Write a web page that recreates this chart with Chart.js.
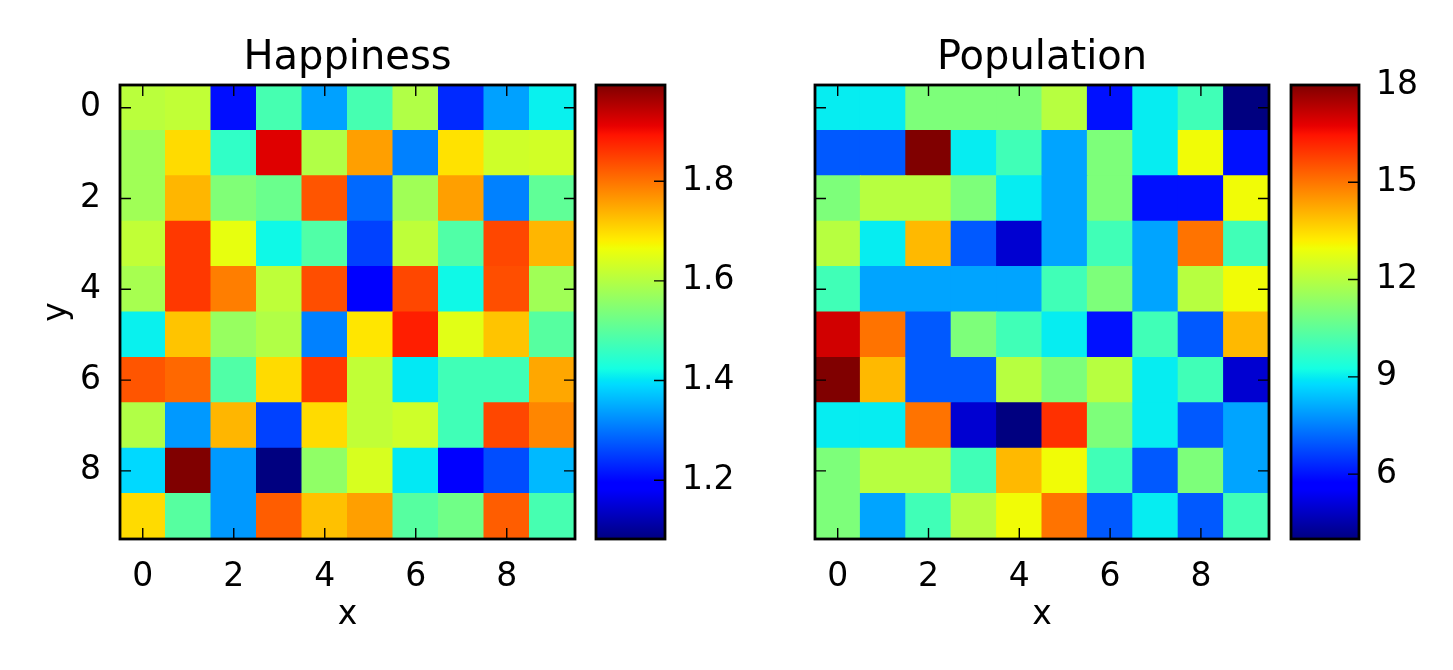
<!DOCTYPE html>
<html><head><meta charset="utf-8">
<script src="https://cdn.jsdelivr.net/npm/chart.js@4.4.1/dist/chart.umd.min.js"></script>
<style>
html,body{margin:0;padding:0;background:#fff;width:1453px;height:670px;overflow:hidden;position:relative;}
canvas{position:absolute;top:0;}
</style></head><body>
<canvas id="c1" width="590" height="670" style="left:0px"></canvas>
<canvas id="c2" width="170" height="670" style="left:590px"></canvas>
<canvas id="c3" width="520" height="670" style="left:760px"></canvas>
<canvas id="c4" width="173" height="670" style="left:1280px"></canvas>
<script>
// ---------- data ----------
const xCategories = [0, 1, 2, 3, 4, 5, 6, 7, 8, 9];
const yCategories = [0, 1, 2, 3, 4, 5, 6, 7, 8, 9];
const axisTickValues = [0, 2, 4, 6, 8];
const titleLeft = 'Happiness';
const titleRight = 'Population';
const xLabel = 'x';
const yLabel = 'y';

const happiness = [
  [1.606, 1.615, 1.210, 1.480, 1.339, 1.480, 1.596, 1.232, 1.339, 1.410],
  [1.579, 1.701, 1.455, 1.916, 1.596, 1.756, 1.310, 1.692, 1.629, 1.633],
  [1.579, 1.734, 1.542, 1.517, 1.826, 1.289, 1.579, 1.756, 1.310, 1.507],
  [1.615, 1.856, 1.658, 1.419, 1.489, 1.253, 1.609, 1.489, 1.842, 1.734],
  [1.586, 1.856, 1.788, 1.609, 1.834, 1.187, 1.842, 1.419, 1.834, 1.579],
  [1.410, 1.720, 1.569, 1.596, 1.310, 1.688, 1.880, 1.650, 1.720, 1.498],
  [1.826, 1.811, 1.489, 1.701, 1.856, 1.615, 1.404, 1.472, 1.472, 1.749],
  [1.596, 1.332, 1.734, 1.253, 1.701, 1.615, 1.629, 1.472, 1.842, 1.781],
  [1.389, 1.993, 1.332, 1.082, 1.559, 1.640, 1.404, 1.187, 1.267, 1.360],
  [1.701, 1.498, 1.332, 1.819, 1.726, 1.756, 1.498, 1.525, 1.819, 1.480]
];
const population = [
  [9, 9, 11, 11, 11, 12, 6, 9, 10, 4],
  [7, 7, 18, 9, 10, 8, 11, 9, 13, 6],
  [11, 12, 12, 11, 9, 8, 11, 6, 6, 13],
  [12, 9, 14, 7, 5, 8, 10, 8, 15, 10],
  [10, 8, 8, 8, 8, 10, 11, 8, 12, 13],
  [17, 15, 7, 11, 10, 9, 6, 10, 7, 14],
  [18, 14, 7, 7, 12, 11, 12, 9, 10, 5],
  [9, 9, 15, 5, 4, 16, 11, 9, 7, 8],
  [11, 12, 12, 10, 14, 13, 10, 7, 11, 8],
  [11, 8, 10, 12, 13, 15, 7, 9, 7, 10]
];
const happinessColorbarTicks = [1.2, 1.4, 1.6, 1.8];
const populationColorbarTicks = [6, 9, 12, 15, 18];

// ---------- jet colormap ----------
const JET = {
  r: [[0, 0], [0.35, 0], [0.66, 1], [0.89, 1], [1, 0.5]],
  g: [[0, 0], [0.125, 0], [0.375, 1], [0.64, 1], [0.91, 0], [1, 0]],
  b: [[0, 0.5], [0.11, 1], [0.34, 1], [0.65, 0], [1, 0]]
};
function seg(pts, u) {
  for (let i = 1; i < pts.length; i++) {
    if (u <= pts[i][0]) {
      const [x0, y0] = pts[i - 1], [x1, y1] = pts[i];
      return y0 + (y1 - y0) * (u - x0) / (x1 - x0);
    }
  }
  return pts[pts.length - 1][1];
}
function jetRaw(u) {
  return 'rgb(' + [JET.r, JET.g, JET.b].map(p => Math.round(255 * seg(p, u))).join(',') + ')';
}
function jet(t) {
  t = Math.max(0, Math.min(1, t));
  const i = Math.min(255, Math.floor(t * 256));
  return jetRaw(i / 255);
}

// ---------- helpers ----------
const FAMILY = "'DejaVu Sans', 'Liberation Sans', sans-serif";
const tickFont = {family: FAMILY, size: 33};
const labelFont = {family: FAMILY, size: 33};
const titleFont = {family: FAMILY, size: 40};

const framePlugin = {
  id: 'frame',
  afterDraw(chart, args, opts) {
    const {ctx, chartArea: a} = chart;
    const L = 11;
    ctx.save();
    ctx.strokeStyle = '#000';
    ctx.lineWidth = 1.4;
    ctx.beginPath();
    const sides = opts.sides || [];
    if (sides.includes('bottom') || sides.includes('top')) {
      const sx = chart.scales.x;
      sx.ticks.forEach(t => {
        const px = sx.getPixelForValue(t.value);
        if (sides.includes('bottom')) { ctx.moveTo(px, a.bottom); ctx.lineTo(px, a.bottom - L); }
        if (sides.includes('top')) { ctx.moveTo(px, a.top); ctx.lineTo(px, a.top + L); }
      });
    }
    if (sides.includes('left') || sides.includes('right')) {
      const sy = chart.scales.y;
      sy.ticks.forEach(t => {
        const py = sy.getPixelForValue(t.value);
        if (sides.includes('left')) { ctx.moveTo(a.left, py); ctx.lineTo(a.left + L, py); }
        if (sides.includes('right')) { ctx.moveTo(a.right, py); ctx.lineTo(a.right - L, py); }
      });
    }
    ctx.stroke();
    ctx.lineWidth = 2.8;
    ctx.strokeRect(a.left, a.top, a.right - a.left, a.bottom - a.top);
    ctx.restore();
  }
};

function heatmapConfig(values, title, showY, yWidth, padRight) {
  const flat = values.flat();
  const vmin = Math.min(...flat), vmax = Math.max(...flat);
  const data = [], colors = [];
  values.forEach((row, r) => row.forEach((v, c) => {
    data.push({x: xCategories[c], y: [yCategories[r] - 0.5, yCategories[r] + 0.5]});
    colors.push(jet((v - vmin) / (vmax - vmin)));
  }));
  const setTicks = s => { s.ticks = axisTickValues.map(v => ({value: v})); };
  return {
    type: 'bar',
    data: {datasets: [{data, backgroundColor: colors, borderWidth: 0,
      barPercentage: 1, categoryPercentage: 1, inflateAmount: 0.5}]},
    options: {
      responsive: false, animation: false, devicePixelRatio: 1,
      layout: {padding: {left: 0, right: padRight, top: 0, bottom: 0}},
      plugins: {legend: {display: false}, tooltip: {enabled: false},
        frame: {sides: ['bottom', 'top', 'left', 'right']}},
      scales: {
        x: {type: 'linear', position: 'bottom', min: -0.5, max: 9.5, offset: false,
          grid: {display: false}, border: {display: false},
          afterBuildTicks: setTicks,
          ticks: {font: tickFont, color: '#000', padding: 11, maxRotation: 0, autoSkip: false,
            callback: v => String(v)},
          title: {display: true, text: xLabel, font: labelFont, color: '#000', padding: {top: 0, bottom: 35}},
          afterFit: s => { s.height = 131; }},
        x2: {type: 'linear', position: 'top', min: -0.5, max: 9.5, offset: false,
          grid: {display: false}, border: {display: false}, ticks: {display: false},
          title: {display: true, text: title, font: titleFont, color: '#000', padding: {top: 35, bottom: 0}},
          afterFit: s => { s.height = 85; }},
        y: {type: 'linear', position: 'left', reverse: true, min: -0.5, max: 9.5, offset: false,
          grid: {display: false}, border: {display: false},
          afterBuildTicks: setTicks,
          ticks: {display: showY, font: tickFont, color: '#000', padding: 11, autoSkip: false,
            callback: v => String(v)},
          title: {display: showY, text: yLabel, font: labelFont, color: '#000', padding: {top: 38, bottom: 0}},
          afterFit: s => { s.width = yWidth; }}
      }
    },
    plugins: [framePlugin]
  };
}

function colorbarConfig(values, tickVals, fmt, padLeft, yWidth) {
  const flat = values.flat();
  const vmin = Math.min(...flat), vmax = Math.max(...flat);
  const stops = [0, 0.11, 0.125, 0.34, 0.35, 0.375, 0.64, 0.65, 0.66, 0.89, 0.91, 1];
  return {
    type: 'bar',
    data: {datasets: [{data: [{x: 0, y: [vmin, vmax]}], borderWidth: 0,
      barPercentage: 1, categoryPercentage: 1, inflateAmount: 0,
      backgroundColor: c => {
        const a = c.chart.chartArea;
        if (!a) return '#000';
        const g = c.chart.ctx.createLinearGradient(0, a.bottom, 0, a.top);
        stops.forEach(s => g.addColorStop(s, jetRaw(s)));
        return g;
      }}]},
    options: {
      responsive: false, animation: false, devicePixelRatio: 1,
      layout: {padding: {left: padLeft, right: 0, top: 85, bottom: 131}},
      plugins: {legend: {display: false}, tooltip: {enabled: false}, frame: {sides: ['right']}},
      scales: {
        x: {type: 'linear', display: false, min: -0.5, max: 0.5, offset: false,
          afterBuildTicks: s => { s.ticks = [{value: 0}]; }},
        y: {type: 'linear', position: 'right', min: vmin, max: vmax,
          grid: {display: false}, border: {display: false},
          afterBuildTicks: s => { s.ticks = tickVals.map(v => ({value: v})); },
          ticks: {font: tickFont, color: '#000', padding: 9, autoSkip: false, callback: fmt},
          afterFit: s => { s.width = yWidth; }}
      }
    },
    plugins: [framePlugin]
  };
}

new Chart(document.getElementById('c1'), heatmapConfig(happiness, titleLeft, true, 120, 15));
new Chart(document.getElementById('c2'), colorbarConfig(happiness, happinessColorbarTicks, v => v.toFixed(1), 6, 95));
new Chart(document.getElementById('c3'), heatmapConfig(population, titleRight, false, 55, 11));
new Chart(document.getElementById('c4'), colorbarConfig(population, populationColorbarTicks, v => String(v), 11, 94));
</script>
</body></html>
